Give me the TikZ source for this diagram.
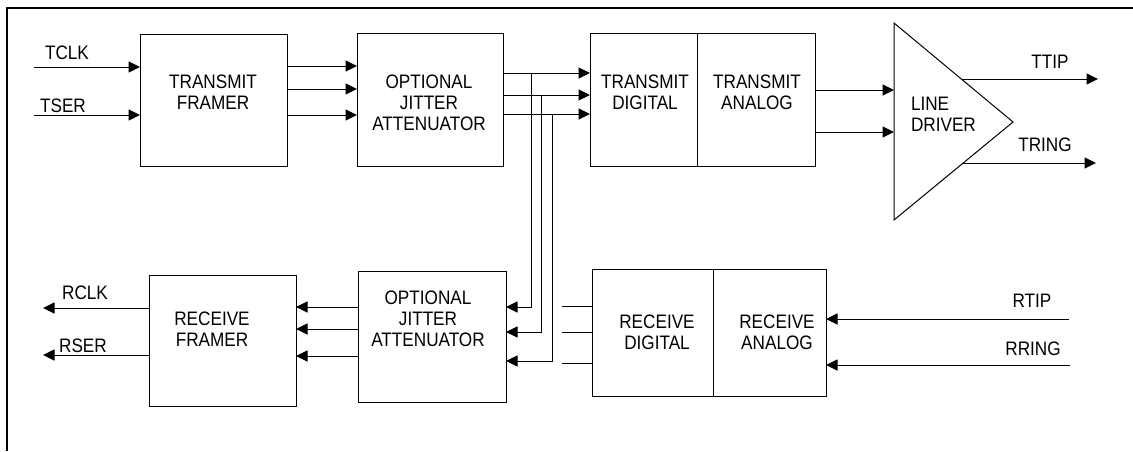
\documentclass[tikz,border=0pt]{standalone}
\usepackage{fontspec}
\setmainfont{Liberation Sans}[FakeStretch=0.88]
\usetikzlibrary{arrows.meta,calc}
\begin{document}
\begin{tikzpicture}[x=1pt,y=-1pt,
  every node/.style={inner sep=0pt,outer sep=0pt},
  blk/.style={draw,line width=1pt,minimum width=#1},
  txt/.style={font=\fontsize{19.5}{21}\selectfont,align=center},
  wire/.style={line width=1pt},
  arr/.style={line width=1pt,-{Triangle[length=11.5pt,width=11pt]}}]
\useasboundingbox (0,0) rectangle (1133,451);
\draw[line width=1.2pt] (7,451) -- (7,8) -- (1133,8);
% transmit path boxes
\node[blk=147pt,minimum height=132pt] (tf) at (213.5,100) {};
\node[txt] (tft) at (213,92) {TRANSMIT\\FRAMER};
\node[blk=146pt,minimum height=133pt] (jt) at (430,99.5) {};
\node[txt] (jtt) at (429,103) {OPTIONAL\\JITTER\\ATTENUATOR};
\node[blk=107pt,minimum height=133pt] (tdig) at (643.5,99.5) {};
\node[blk=118pt,minimum height=133pt] (tana) at (756,99.5) {};
\node[txt] (tdigt) at (645,92.5) {TRANSMIT\\DIGITAL};
\node[txt] (tanat) at (757,92.5) {TRANSMIT\\ANALOG};
% line driver
\coordinate (ldtop) at (894,23);
\coordinate (ldbot) at (894,220);
\coordinate (ldtip) at (1013,122);
\draw[line width=1pt,line join=miter] (ldtop) -- (ldtip) -- (ldbot) -- cycle;
\node[txt,align=left,anchor=west] (ldt) at (911,114.5) {LINE\\DRIVER};
% receive path boxes
\node[blk=147pt,minimum height=131pt] (rf) at (222.5,340.5) {};
\node[txt] (rft) at (212,329.5) {RECEIVE\\FRAMER};
\node[blk=148pt,minimum height=131pt] (rj) at (432,336.5) {};
\node[txt] (rjt) at (428,319) {OPTIONAL\\JITTER\\ATTENUATOR};
\node[blk=121pt,minimum height=127pt] (rdig) at (652.5,332.5) {};
\node[blk=113pt,minimum height=127pt] (rana) at (769.5,332.5) {};
\node[txt] (rdigt) at (657,332) {RECEIVE\\DIGITAL};
\node[txt] (ranat) at (777,332) {RECEIVE\\ANALOG};
% labels
\node[txt] (ltclk) at (67,53) {TCLK};
\node[txt] (ltser) at (63,106) {TSER};
\node[txt] (lttip) at (1050,62) {TTIP};
\node[txt] (ltring) at (1045,145) {TRING};
\node[txt] (lrclk) at (85,293) {RCLK};
\node[txt] (lrser) at (83,346) {RSER};
\node[txt] (lrtip) at (1032,301) {RTIP};
\node[txt] (lrring) at (1033,349) {RRING};
% free ends
\coordinate (tclk) at (34,67);
\coordinate (tser) at (34,115);
\coordinate (rclk) at (43,308);
\coordinate (rser) at (43,355);
\coordinate (ttipS) at (961,79);
\coordinate (ttipE) at (1098,79);
\coordinate (tringS) at (963,163);
\coordinate (tringE) at (1096,163);
\coordinate (rtip) at (1069,319);
\coordinate (rring) at (1070,365);
% transmit connectors
\draw[arr] (tclk) -- (tclk -| tf.west);
\draw[arr] (tser) -- (tser -| tf.west);
\foreach \y in {66,89,115}{
  \coordinate (f\y) at (0,\y);
  \draw[arr] (tf.east |- f\y) -- (jt.west |- f\y);
}
\coordinate (j1) at (531,73);
\coordinate (j2) at (541,95);
\coordinate (j3) at (552,114);
\draw[arr] (jt.east |- j1) -- (tdig.west |- j1);
\draw[arr] (jt.east |- j2) -- (tdig.west |- j2);
\draw[arr] (jt.east |- j3) -- (tdig.west |- j3);
\coordinate (d1) at (0,90);
\coordinate (d2) at (0,132);
\draw[arr] (tana.east |- d1) -- (ldtop |- d1);
\draw[arr] (tana.east |- d2) -- (ldtop |- d2);
\draw[arr] (ttipS) -- (ttipE);
\draw[arr] (tringS) -- (tringE);
% loop-back verticals
\coordinate (k1) at (0,307);
\coordinate (k2) at (0,332);
\coordinate (k3) at (0,361);
\draw[arr] (j1) |- (rj.east |- k1);
\draw[arr] (j2) |- (rj.east |- k2);
\draw[arr] (j3) |- (rj.east |- k3);
% receive connectors
\foreach \y in {307,329,356}{
  \coordinate (g\y) at (0,\y);
  \draw[arr] (rj.west |- g\y) -- (rf.east |- g\y);
}
\draw[arr] (rf.west |- rclk) -- (rclk);
\draw[arr] (rf.west |- rser) -- (rser);
\foreach \y in {306,332,363}{
  \coordinate (s\y) at (562,\y);
  \draw[wire] (rdig.west |- s\y) -- (s\y);
}
\draw[arr] (rtip) -- (rtip -| rana.east);
\draw[arr] (rring) -- (rring -| rana.east);
\end{tikzpicture}
\end{document}
